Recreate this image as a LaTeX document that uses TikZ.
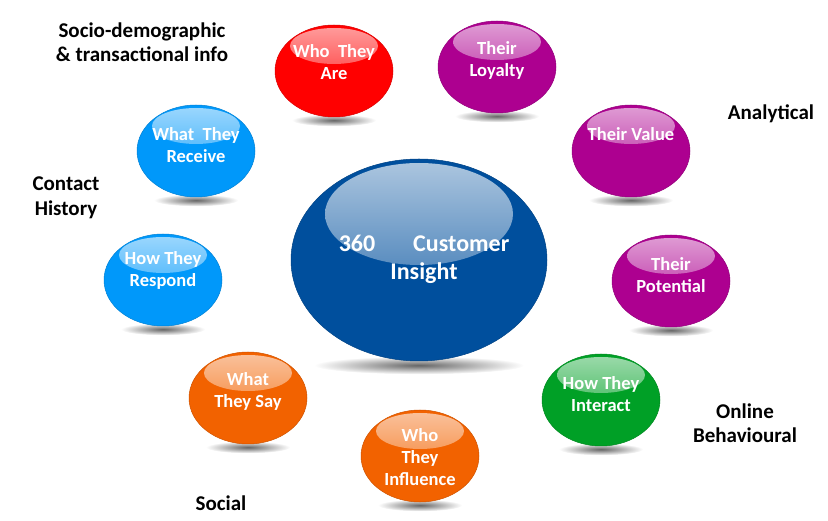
\documentclass[tikz,border=0pt]{standalone}
\usepackage{fontspec}
\setmainfont{Carlito}
\usetikzlibrary{shapes.geometric,calc,backgrounds}

\definecolor{hubblue}{HTML}{004F9D}
\definecolor{bubred}{HTML}{FF0000}
\definecolor{bubpurple}{HTML}{AD0090}
\definecolor{bubblue}{HTML}{0098FA}
\definecolor{buborange}{HTML}{F26200}
\definecolor{bubgreen}{HTML}{00A026}

\tikzset{
  bubble/.style={ellipse, minimum width=118pt, minimum height=92pt, inner sep=0pt,
    fill=#1, draw=#1!85!black, line width=0.5pt,
    path picture={\shade[top color=white!62!#1, bottom color=#1!96!white]
      ($(path picture bounding box.north)+(0,21)$) ellipse [x radius=44, y radius=18];}},
  hub/.style={ellipse, minimum width=256pt, minimum height=202pt, inner sep=0pt,
    fill=#1, draw=#1!85!black, line width=0.5pt,
    path picture={\shade[top color=white!68!#1, bottom color=#1!94!white]
      ($(path picture bounding box.north)+(0,55)$) ellipse [x radius=94, y radius=51];}},
  bubtext/.style={text=white, font=\bfseries\fontsize{18.5}{22}\selectfont, align=center},
  hubtext/.style={text=white, font=\bfseries\fontsize{24}{28}\selectfont, align=center},
  tag/.style={text=black, font=\bfseries\fontsize{21}{24.5}\selectfont, align=center},
  undershade/.style={inner color=black!60, outer color=white}
}

\begin{document}
\begin{tikzpicture}[x=1pt,y=-1pt]

\useasboundingbox (0,0) rectangle (828,521);

% bubbles
\node [hub=hubblue] (hub) at (419,260) {};
\node [bubble=bubred] (who) at (334,71) {};
\node [bubble=bubpurple] (loyalty) at (497,67) {};
\node [bubble=bubblue] (receive) at (196,151) {};
\node [bubble=bubpurple] (value) at (631,151) {};
\node [bubble=bubblue] (respond) at (163,280) {};
\node [bubble=bubpurple] (potential) at (671,281) {};
\node [bubble=buborange] (say) at (248,398) {};
\node [bubble=bubgreen] (interact) at (601,400) {};
\node [bubble=buborange] (influence) at (420,456) {};

% shadows under the bubbles
\begin{scope}[on background layer]
\shade [undershade] ($(hub.south)+(0,4)$) ellipse [x radius=105, y radius=9];
\shade [undershade] ($(who.south)+(0,3)$) ellipse [x radius=42, y radius=6];
\shade [undershade] ($(loyalty.south)+(0,3)$) ellipse [x radius=42, y radius=6];
\shade [undershade] ($(receive.south)+(0,3)$) ellipse [x radius=42, y radius=6];
\shade [undershade] ($(value.south)+(0,3)$) ellipse [x radius=42, y radius=6];
\shade [undershade] ($(respond.south)+(0,3)$) ellipse [x radius=42, y radius=6];
\shade [undershade] ($(potential.south)+(0,3)$) ellipse [x radius=42, y radius=6];
\shade [undershade] ($(say.south)+(0,3)$) ellipse [x radius=42, y radius=6];
\shade [undershade] ($(interact.south)+(0,3)$) ellipse [x radius=42, y radius=6];
\shade [undershade] ($(influence.south)+(0,3)$) ellipse [x radius=42, y radius=6];
\end{scope}

% texts in the bubbles
\node [hubtext] (hub-t) at (424,259) {360\hspace{38pt}Customer\\Insight};
\node [bubtext] (who-t) at (334,62) {Who~ They\\Are};
\node [bubtext] (loyalty-t) at (497,60) {Their\\Loyalty};
\node [bubtext] (receive-t) at (196,145) {What~ They\\Receive};
\node [bubtext] (value-t) at (631,134) {Their Value};
\node [bubtext] (respond-t) at (163,270) {How They\\Respond};
\node [bubtext] (potential-t) at (671,275) {Their\\Potential};
\node [bubtext] (say-t) at (248,391) {What\\They Say};
\node [bubtext] (interact-t) at (601,394) {How They\\Interact};
\node [bubtext] (influence-t) at (420,457) {Who\\They\\Influence};

% group labels
\node [tag] (socio) at (142,42) {Socio-demographic\\\& transactional info};
\node [tag] (analytical) at (771,114) {Analytical};
\node [tag] (contact) at (66,198) {Contact\\History};
\node [tag] (online) at (745,423) {Online\\Behavioural};
\node [tag] (social) at (221,503) {Social};

\end{tikzpicture}
\end{document}
